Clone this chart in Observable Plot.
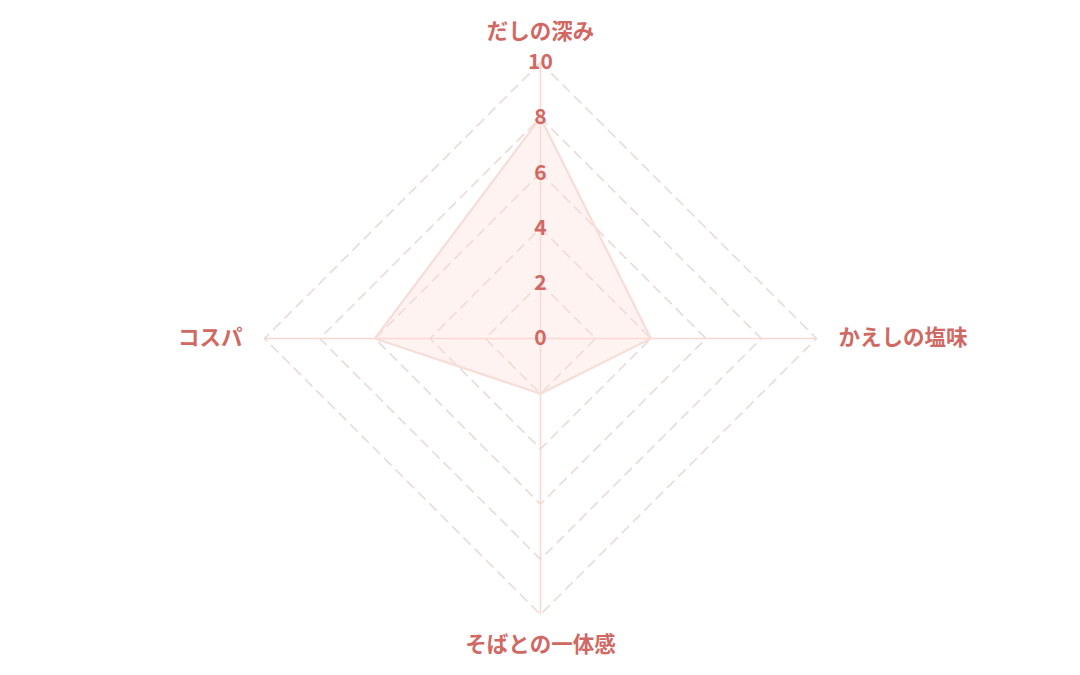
<!DOCTYPE html>
<html>
<head>
<meta charset="utf-8">
<script src="https://cdn.jsdelivr.net/npm/d3@7"></script>
<script src="https://cdn.jsdelivr.net/npm/@observablehq/plot@0.6"></script>
<style>
  html, body { margin: 0; padding: 0; background: #ffffff; }
  #chart { width: 1080px; height: 675px; }
</style>
</head>
<body>
<div id="chart"></div>
<script>
// ---- data ----
const categories = ["だしの深み", "かえしの塩味", "そばとの一体感", "コスパ"];
const values = [8, 4, 2, 6];
const tickValues = [0, 2, 4, 6, 8, 10];
const gridLevels = [2, 4, 6, 8, 10];
const maxValue = 10;

// ---- layout/style ----
const W = 1080, H = 675;
const cx = 540, cy = 338, pxPerUnit = 27.6;
const labelColor = "#d06863";
const font = "'Noto Sans CJK JP', 'Noto Sans', sans-serif";

const angle = i => i * 2 * Math.PI / categories.length;
const px = (i, r) => r * Math.sin(angle(i));
const py = (i, r) => r * Math.cos(angle(i));

const poly = categories.map((c, i) => ({cat: c, x: px(i, values[i]), y: py(i, values[i])}));
const polyClosed = [...poly, poly[0]];

const grid = gridLevels.flatMap(l =>
  [...categories.map((c, i) => ({level: l, x: px(i, l), y: py(i, l)})),
   {level: l, x: px(0, l), y: py(0, l)}]);

const spokes = categories.map((c, i) => ({x1: 0, y1: 0, x2: px(i, maxValue), y2: py(i, maxValue)}));

const ticks = tickValues.map(t => ({t, x: px(0, t), y: py(0, t)}));

const labelPos = [
  {r: 11.1, anchor: "middle"},
  {r: 10.8, anchor: "start"},
  {r: 11.1, anchor: "middle"},
  {r: 10.8, anchor: "end"}
];
const catLabels = categories.map((c, i) => ({
  name: c, x: px(i, labelPos[i].r), y: py(i, labelPos[i].r), anchor: labelPos[i].anchor
}));

const xDom = [-cx / pxPerUnit, (W - cx) / pxPerUnit];
const yDom = [-(H - cy) / pxPerUnit, cy / pxPerUnit];

const textStyle = {fill: labelColor, fontSize: 21.5, fontWeight: "bold"};

const chart = Plot.plot({
  width: W, height: H,
  margin: 0,
  x: {domain: xDom, range: [0, W], axis: null},
  y: {domain: yDom, range: [H, 0], axis: null},
  style: {fontFamily: font, background: "#ffffff"},
  marks: [
    Plot.line(grid, {x: "x", y: "y", z: "level", stroke: "#e8ddd8", strokeWidth: 1.7, strokeDasharray: "9,7"}),
    Plot.link(spokes, {x1: "x1", y1: "y1", x2: "x2", y2: "y2", stroke: "#f7d8d3", strokeWidth: 1.6}),
    Plot.area(polyClosed, {x1: "x", y1: "y", x2: 0, y2: 0, fill: "#fbdcd6", fillOpacity: 0.35}),
    Plot.line(polyClosed, {x: "x", y: "y", stroke: "#f7ddd7", strokeWidth: 2.2}),
    Plot.text(ticks, {x: "x", y: "y", text: d => String(d.t), ...textStyle, fontSize: 21}),
    Plot.text(catLabels.filter(d => d.anchor === "middle"), {x: "x", y: "y", text: "name", ...textStyle, textAnchor: "middle"}),
    Plot.text(catLabels.filter(d => d.anchor === "start"), {x: "x", y: "y", text: "name", ...textStyle, textAnchor: "start"}),
    Plot.text(catLabels.filter(d => d.anchor === "end"), {x: "x", y: "y", text: "name", ...textStyle, textAnchor: "end"})
  ]
});
document.getElementById("chart").appendChild(chart);
</script>
</body>
</html>
